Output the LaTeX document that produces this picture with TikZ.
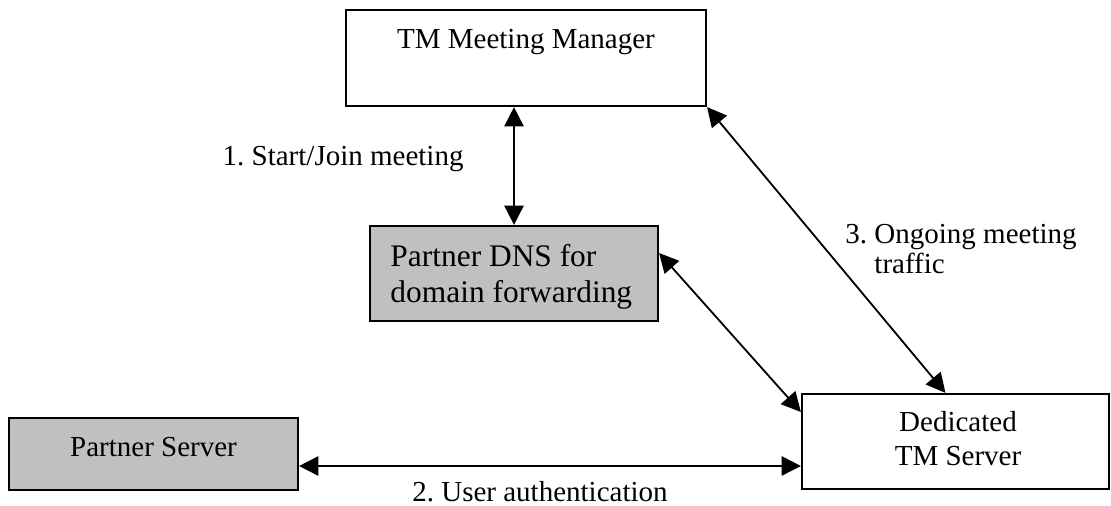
\documentclass[tikz,border=0pt]{standalone}
\usepackage{fontspec}
\setmainfont{Liberation Serif}
\usetikzlibrary{arrows.meta}

\newcommand{\pxu}{0.4138pt}
\definecolor{boxgrey}{HTML}{C0C0C0}
\setlength{\lineskiplimit}{-10pt}
\frenchspacing

\begin{document}
\begin{tikzpicture}[x=\pxu, y=-\pxu,
  every node/.style={font=\fontsize{12}{13.8}\selectfont},
  box/.style={draw, line width=0.9pt, inner sep=0pt},
  greybox/.style={box, fill=boxgrey},
  txt/.style={inner sep=0pt, anchor=base},
  link/.style={line width=0.75pt,
    {Triangle[length=8pt,width=8pt]}-{Triangle[length=8pt,width=8pt]}}]
\useasboundingbox (0,0) rectangle (1111,506);

% boxes
\node[box, minimum width=360*\pxu, minimum height=96*\pxu] (tmm) at (526,58) {};
\node[greybox, minimum width=288*\pxu, minimum height=95*\pxu] (dns) at (514,273.5) {};
\node[greybox, minimum width=289*\pxu, minimum height=72*\pxu] (psrv) at (153.5,454) {};
\node[box, minimum width=307*\pxu, minimum height=95*\pxu] (dts) at (955.5,441.5) {};

% box texts
\node[txt] (tmmtext) at (526,49) {TM Meeting Manager};
\node[txt, anchor=base west, align=flush left, text width=260*\pxu,
  font=\fontsize{13}{14.5}\selectfont] (dnstext)
  at (390,267) {Partner DNS for\\domain forwarding};
\node[txt] (psrvtext) at (153.5,457) {Partner Server};
\node[txt, align=flush center, text width=200*\pxu] (dtstext) at (958,432)
  {Dedicated\\TM Server};

% links
\draw[link] (dns.north |- tmm.south) -- (dns.north);
\draw[link] (tmm.south east) -- ([xshift=-10*\pxu]dts.north);
\draw[link] ([yshift=20.5*\pxu]dns.east) -- ([yshift=29.5*\pxu]dts.west);
\coordinate (authy) at ([yshift=-12*\pxu]psrv.east);
\draw[link] (authy) -- (authy -| dts.west);

% link labels
\node[txt, anchor=base east] (startlbl) at (464,166) {1. Start/Join meeting};
\node[txt] (authlbl) at (540,502) {2. User authentication};
\node[txt, anchor=base west, align=flush left, text width=250*\pxu,
  font=\fontsize{12}{10.8}\selectfont]
  (trafficlbl) at (845,244) {3. Ongoing meeting\\\hphantom{3. }traffic};
\end{tikzpicture}
\end{document}
